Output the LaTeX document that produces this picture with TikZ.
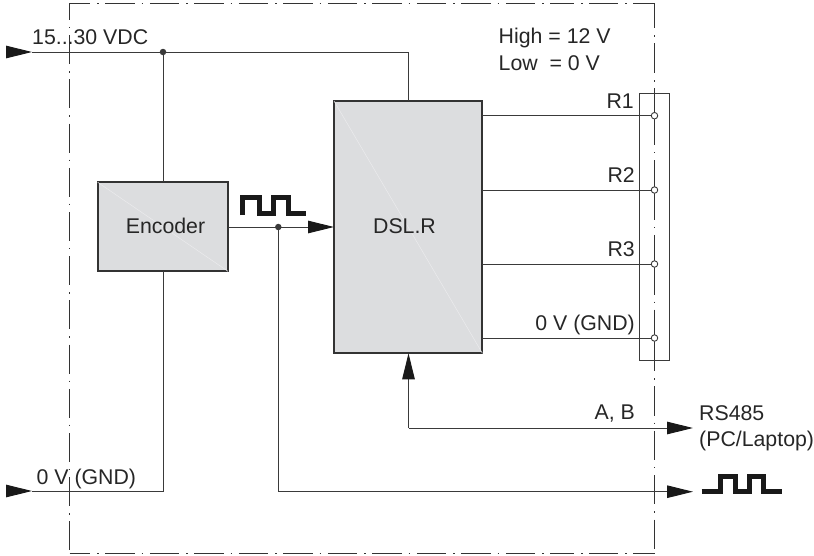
\documentclass[tikz,border=0pt]{standalone}
\usepackage{fontspec}
\setmainfont{Liberation Sans}
\usetikzlibrary{arrows.meta,calc}
\definecolor{ink}{HTML}{3A3A3A}
\definecolor{boxfill}{HTML}{DCDDDF}
\definecolor{diag}{HTML}{EBEBED}
\tikzset{
  x=1pt,y=-1pt,
  wire/.style={draw=ink,line width=1pt},
  arrowed/.style={wire,-{Triangle[length=26pt,width=12.5pt,color=black!90]}},
  block/.style={draw=black!80,line width=2pt,fill=boxfill,anchor=north west,inner sep=0pt,outer sep=0pt},
  lab/.style={text=black!85,font=\fontsize{21.3}{24}\selectfont,inner sep=0pt},
  dot/.style={circle,fill=ink,inner sep=0pt,minimum size=6.5pt},
  term/.style={circle,draw=ink,fill=white,line width=0.9pt,inner sep=0pt,minimum size=6.5pt},
  frameline/.style={draw=black!80,line width=1pt,line cap=butt},
  pulse/.style={draw=black!90,line width=5pt,miter limit=10},
}
\begin{document}
\begin{tikzpicture}
\useasboundingbox (0,0) rectangle (814,555);
% system boundary, piecewise so the dots fall where they do in the reference
\draw[frameline,dash pattern=on 29.3pt off 6.9pt on 1.4pt off 6.9pt,dash phase=8.6pt] (69.5,3) -- (550.4,3);
\draw[frameline,dash pattern=on 29pt off 6.8pt on 1.4pt off 6.8pt,dash phase=5pt] (550.4,3) -- (654.5,3);
\draw[frameline,dash pattern=on 29.3pt off 6.9pt on 1.4pt off 6.9pt,dash phase=8.6pt] (69.5,553.5) -- (550.4,553.5);
\draw[frameline,dash pattern=on 29pt off 6.8pt on 1.4pt off 6.8pt,dash phase=5pt] (550.4,553.5) -- (654.5,553.5);
\draw[frameline,dash pattern=on 29pt off 6.9pt on 1.4pt off 6.9pt,dash phase=12pt] (69.5,3) -- (69.5,553.5);
\draw[frameline,dash pattern=on 29.8pt off 6.9pt on 1.4pt off 6.9pt,dash phase=4.6pt] (654.5,3) -- (654.5,88.4);
\draw[frameline,dash pattern=on 60pt off 6.7pt on 1.3pt off 6.7pt,dash phase=3pt] (654.5,88.4) -- (654.5,360);
\draw[frameline,dash pattern=on 29.2pt off 6.9pt on 1.4pt off 6.9pt,dash phase=18pt] (654.5,360) -- (654.5,553.5);
% terminal strip
\node[draw=ink,line width=1pt,minimum width=29.6pt,minimum height=267pt,inner sep=0pt,outer sep=0pt,anchor=north west] (strip) at (639.7,93.3) {};
% blocks
\node[block,minimum width=130.3pt,minimum height=89pt] (enc) at (97.7,182.3) {};
\draw[diag,line width=0.5pt] (enc.north west) -- (enc.south east);
\node[lab] (enctext) at (165.5,226) {Encoder};
\node[block,minimum width=148.4pt,minimum height=252.3pt] (dsl) at (334,101) {};
\draw[diag,line width=0.5pt] (dsl.north west) -- (dsl.south east);
\node[lab] (dsltext) at (404.5,226) {DSL.R};
% helper points
\coordinate (vin) at (6,52);
\coordinate (vintip) at (32,52);
\coordinate (gnd) at (6,491);
\coordinate (gndtip) at (32,491);
\coordinate (abend) at (693,428);
\coordinate (sigend) at (693,491.7);
\coordinate (abcorner) at (408.5,428);
\coordinate (sigcorner) at (278.3,491.7);
\coordinate (gndcorner) at (163,491);
\coordinate (dslin) at (408.5,101);
\coordinate (vcorner) at (408.5,52);
\node[dot] (j1) at (163,52) {};
\node[dot] (j2) at (278.3,227) {};
\node[term] (t1) at (654.5,115.7) {};
\node[term] (t2) at (654.5,190) {};
\node[term] (t3) at (654.5,264) {};
\node[term] (t4) at (654.5,338) {};
% connectors
\draw[arrowed] (vin) -- (vintip);
\draw[wire] (vintip) -- (j1);
\draw[wire] (j1) -- (vcorner) -- (dslin);
\draw[wire] (j1) -- (enc.north -| j1);
\draw[wire] (enc.south -| j1) -- (gndcorner) -- (gndtip);
\draw[arrowed] (gnd) -- (gndtip);
\draw[arrowed] (enc.east |- j2) -- (dsl.west |- j2);
\draw[arrowed] (j2) -- (sigcorner) -- (sigend);
\draw[arrowed] (abcorner) -- (abend);
\draw[wire,{Triangle[length=26pt,width=12.5pt,color=black!90]}-] (dsl.south -| abcorner) -- (abcorner);
\draw[wire] (dsl.east |- t1) -- (t1);
\draw[wire] (dsl.east |- t2) -- (t2);
\draw[wire] (dsl.east |- t3) -- (t3);
\draw[wire] (dsl.east |- t4) -- (t4);
% pulse symbols
\draw[pulse] (242.5,215) -- (242.5,197) -- (259,197) -- (259,213) -- (273.5,213) -- (273.5,197) -- (288,197) -- (288,213) -- (306,213);
\draw[pulse] (701.7,491.7) -- (720,491.7) -- (720,476) -- (735,476) -- (735,491.7) -- (749,491.7) -- (749,476) -- (763,476) -- (763,491.7) -- (782,491.7);
% labels
\node[lab,anchor=base west] (l15) at (32,44) {15...30 VDC};
\node[lab,anchor=base west] (lhigh) at (498.5,43) {High = 12 V};
\node[lab,anchor=base west] (llow) at (498.5,70) {Low\ \ = 0 V};
\node[lab,anchor=base east] (lr1) at (634,108.5) {R1};
\node[lab,anchor=base east] (lr2) at (635,182.5) {R2};
\node[lab,anchor=base east] (lr3) at (635,256.5) {R3};
\node[lab,anchor=base east] (lg) at (635,330.5) {0 V (GND)};
\node[lab,anchor=base east] (lab) at (635,419) {A, B};
\node[lab,anchor=base west] (lrs) at (699,420) {RS485};
\node[lab,anchor=base west] (lpc) at (699,446) {(PC/Laptop)};
\node[lab,anchor=base west] (lg2) at (36.5,484) {0 V (GND)};
\end{tikzpicture}
\end{document}
